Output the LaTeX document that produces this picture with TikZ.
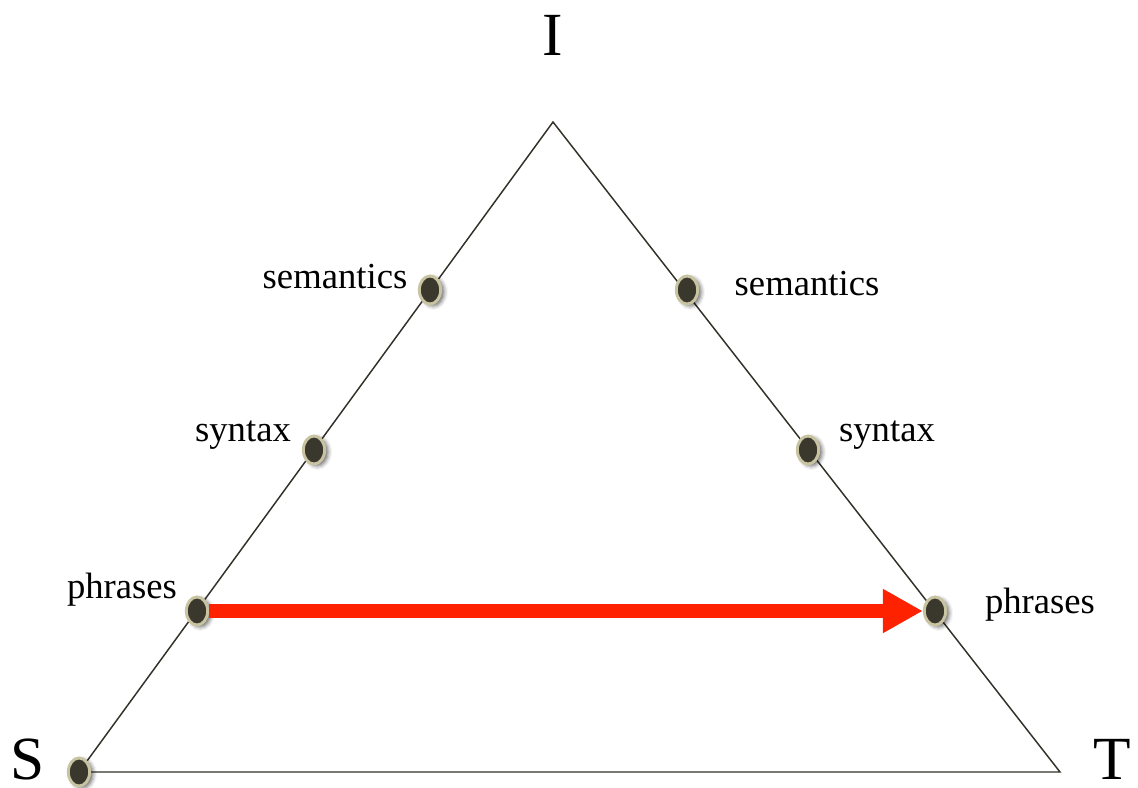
\documentclass[tikz,border=0pt]{standalone}
\usepackage{fontspec}
\setmainfont{Liberation Serif}
\usetikzlibrary{arrows.meta,shapes.geometric,shadows.blur}
\definecolor{dotfill}{RGB}{58,55,45}
\definecolor{dotrim}{RGB}{200,195,160}
\definecolor{edgegray}{RGB}{50,48,40}
\definecolor{arrowred}{RGB}{255,34,0}
\tikzset{
  dot/.style={ellipse,fill=dotfill,draw=dotrim,line width=2.2pt,
    minimum width=16pt,minimum height=21pt,inner sep=0pt,
    blur shadow={shadow xshift=2.5pt,shadow yshift=-1.5pt,shadow blur radius=3pt,shadow opacity=60}},
  lbl/.style={font=\fontsize{27.5}{30}\selectfont,inner sep=0pt},
  corner/.style={font=\fontsize{46}{50}\selectfont,inner sep=0pt},
  edge/.style={edgegray,line width=1.1pt},
  arrowline/.style={arrowred,line width=10.5pt,-{Triangle[length=30pt,width=31pt]}}
}

\begin{document}
\begin{tikzpicture}[x=0.75pt,y=-0.75pt]
  \useasboundingbox (0,0) rectangle (1138,788);
  % triangle
  \coordinate (apex) at (553,122);
  \coordinate (left) at (79,772);
  \coordinate (right) at (1060,772);
  \draw[edge] (left) -- (apex) -- (right) -- cycle;
  % corner letters
  \node[corner] (lblI) at (553,35) {I};
  \node[corner] (lblS) at (28,759) {S};
  \node[corner] (lblT) at (1112,759) {T};
  % dots on the source side
  \node[dot] (semL) at (430,290) {};
  \node[dot] (synL) at (314,450) {};
  \node[dot] (phrL) at (197,611) {};
  \node[dot] (dotS) at (79,772) {};
  % dots on the target side
  \node[dot] (semR) at (687,290) {};
  \node[dot] (synR) at (808,450) {};
  \node[dot] (phrR) at (935,611) {};
  \draw[arrowline] (phrL) -- (phrR);
  % labels
  \node[lbl] (tsemL) at (335,277) {semantics};
  \node[lbl] (tsynL) at (243,435) {syntax};
  \node[lbl] (tphrL) at (122,590) {phrases};
  \node[lbl] (tsemR) at (807,284) {semantics};
  \node[lbl] (tsynR) at (887,435) {syntax};
  \node[lbl] (tphrR) at (1040,605) {phrases};
\end{tikzpicture}
\end{document}
